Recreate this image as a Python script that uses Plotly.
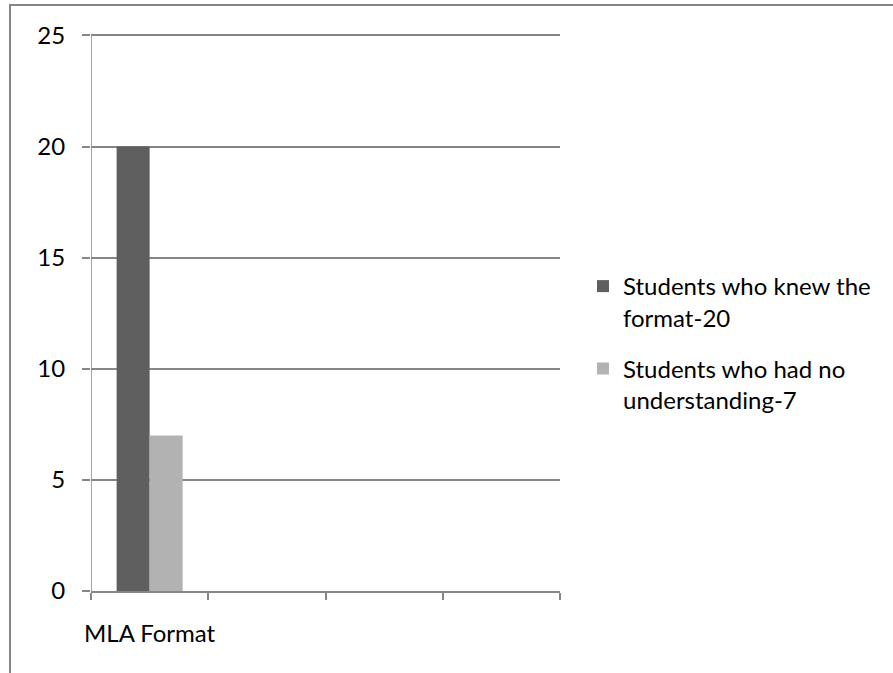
import plotly.graph_objects as go

# Data
categories = ["MLA Format"]
series_names = ["Students who knew the<br>format-20", "Students who had no<br>understanding-7"]
series_values = [[20], [7]]
series_colors = ["#5f5f5f", "#b2b2b2"]
y_ticks = [0, 5, 10, 15, 20, 25]
slot_edges = [-0.5, 0.5, 1.5, 2.5, 3.5]
y_max = 25.2

W, H = 893, 673
L, R, T, B = 91, 333, 31, 82
pw, ph = W - L - R, H - T - B

fig = go.Figure()
for name, vals, col in zip(series_names, series_values, series_colors):
    fig.add_trace(go.Bar(
        x=list(range(len(categories))), y=vals, name=name, legendgroup=name,
        marker=dict(color=col, line=dict(width=0)),
    ))

def px_x(p):
    return (p - L) / pw

def px_y(p):
    return (H - B - p) / ph

# Outer chart frame (left and top edges)
frame = "M {} {} L {} {} L {} {}".format(px_x(10), px_y(680), px_x(10), px_y(5), px_x(900), px_y(5))

fig.update_layout(
    width=W, height=H,
    margin=dict(l=L, r=R, t=T, b=B),
    paper_bgcolor="white", plot_bgcolor="white",
    font=dict(family="Lato, 'Open Sans', sans-serif", size=24, color="#000000"),
    barmode="group", bargap=0.437, bargroupgap=0,
    showlegend=True,
    legend=dict(
        x=px_x(583), y=px_y(264), xanchor="left", yanchor="top",
        font=dict(size=24, color="#000000"),
        tracegroupgap=17, valign="top", itemwidth=30,
        traceorder="grouped",
        bgcolor="rgba(0,0,0,0)",
    ),
    xaxis=dict(
        range=[-0.5, 3.5],
        tickvals=list(range(len(categories))), ticktext=categories,
        ticks="", ticklabelstandoff=20,
        showline=True, linecolor="#868686", linewidth=1.5,
        showgrid=False, zeroline=False,
        minor=dict(tickvals=slot_edges, ticks="outside", ticklen=7,
                   tickcolor="#868686", tickwidth=1.5, showgrid=False),
    ),
    yaxis=dict(
        range=[0, y_max], tickvals=y_ticks,
        ticks="outside", ticklen=8, tickcolor="#868686", tickwidth=1.5,
        ticklabelstandoff=12,
        showline=False,
        showgrid=True, gridcolor="#868686", gridwidth=1.5,
        zeroline=False,
    ),
    shapes=[
        dict(type="path", path=frame, xref="paper", yref="paper",
             line=dict(color="#868686", width=2), layer="above"),
        # vertical value axis from 0 up to the top tick
        dict(type="line", xref="x", yref="y", x0=slot_edges[0], x1=slot_edges[0],
             y0=0, y1=y_ticks[-1], line=dict(color="#868686", width=1.5)),
    ],
)

fig.write_html("out.html")
